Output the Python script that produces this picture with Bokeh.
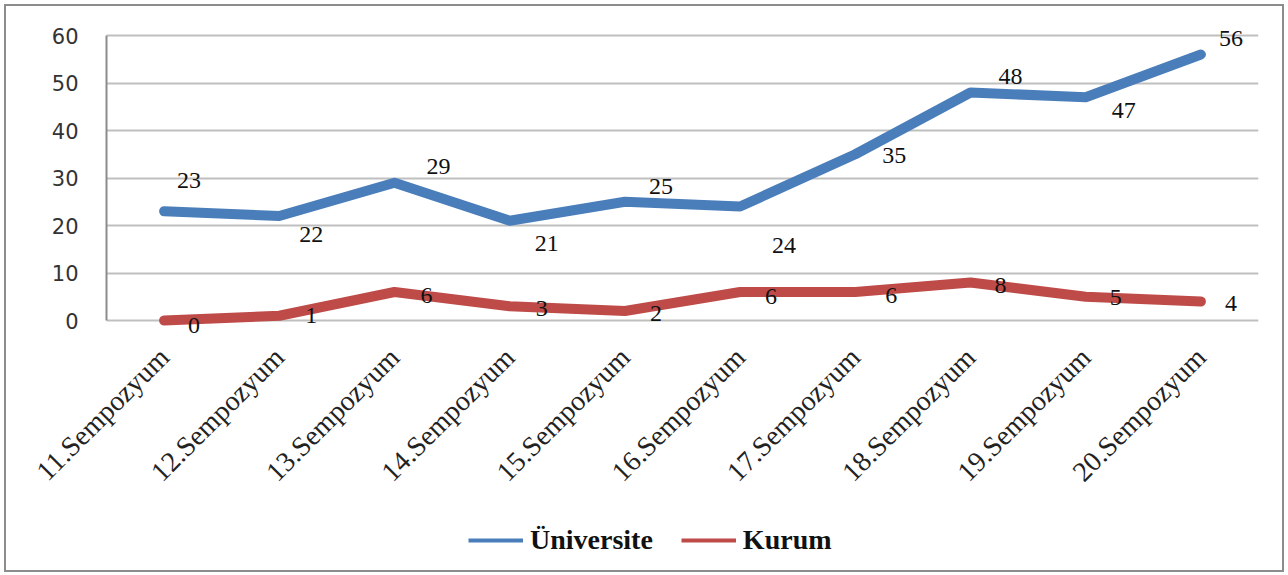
from math import pi
from bokeh.plotting import figure
from bokeh.layouts import column
from bokeh.models import ColumnDataSource, FactorRange, Legend, LegendItem, SingleIntervalTicker, LabelSet, Range1d
from bokeh.embed import file_html
from bokeh.resources import INLINE

categories = ["11.Sempozyum", "12.Sempozyum", "13.Sempozyum", "14.Sempozyum", "15.Sempozyum",
              "16.Sempozyum", "17.Sempozyum", "18.Sempozyum", "19.Sempozyum", "20.Sempozyum"]
universite = [23, 22, 29, 21, 25, 24, 35, 48, 47, 56]
kurum = [0, 1, 6, 3, 2, 6, 6, 8, 5, 4]
series_names = ["Üniversite", "Kurum"]

# label placement (screen px offsets, layout only; dy positive = down)
uni_dx = [25, 32, 44, 37, 36, 44, 39, 40, 38, 30]
uni_dy = [-31, 18, -16, 23, -15, 39, 1, -16, 13, -16]
kur_dx = [30, 32, 32, 32, 31, 31, 36, 30, 30, 30]
kur_dy = [5, 0, 3, 2, 2, 4, 3, 3, 1, 2]

BLUE = "#4a7ebb"
RED = "#be4b48"

PX = 285 / 60.0          # pixels per unit on the value axis
TOP_PAD, BOT_PAD = 12, 22  # extra frame room so labels near the edges are not clipped

p = figure(width=1276, height=500, x_range=FactorRange(*categories, range_padding=0),
           y_range=Range1d(-BOT_PAD / PX, 60 + TOP_PAD / PX), output_backend="svg",
           toolbar_location=None,
           min_border_left=100, min_border_right=24, min_border_top=17,
           min_border_bottom=500 - 17 - (285 + TOP_PAD + BOT_PAD))
p.outline_line_color = None
p.background_fill_color = "white"
p.border_fill_color = "white"

p.yaxis.ticker = SingleIntervalTicker(interval=10)
p.yaxis.bounds = (0, 60)
p.ygrid.grid_line_color = "#bfbfbf"
p.ygrid.grid_line_width = 2
p.xgrid.grid_line_color = None
p.yaxis.axis_line_color = "#8c8c8c"
p.yaxis.axis_line_width = 2
p.xaxis.axis_line_color = None
p.yaxis.major_tick_line_color = None
p.yaxis.minor_tick_line_color = None
p.xaxis.major_tick_line_color = None
p.yaxis.major_label_text_font = "DejaVu Sans"
p.yaxis.major_label_text_font_size = "21px"
p.yaxis.major_label_text_color = "#333333"
p.yaxis.major_label_standoff = 22
p.xaxis.major_label_text_font = "Liberation Serif"
p.xaxis.major_label_text_font_size = "28px"
p.xaxis.major_label_text_color = "#222222"
p.xaxis.major_label_orientation = pi / 4
p.xaxis.major_label_standoff = 4

src = ColumnDataSource(dict(x=categories, u=universite, k=kurum,
                            ul=[str(v) for v in universite], kl=[str(v) for v in kurum],
                            udx=uni_dx, udy=[-d for d in uni_dy],
                            kdx=kur_dx, kdy=[-d for d in kur_dy]))

p.line("x", "u", source=src, line_color=BLUE, line_width=10, line_join="round", line_cap="round")
p.line("x", "k", source=src, line_color=RED, line_width=10, line_join="round", line_cap="round")

for col, lab, dx, dy in (("u", "ul", "udx", "udy"), ("k", "kl", "kdx", "kdy")):
    p.add_layout(LabelSet(x="x", y=col, text=lab, source=src, x_offset=dx, y_offset=dy,
                          text_font="Liberation Serif", text_font_size="24px",
                          text_color="#111111", text_align="center", text_baseline="middle"))

# legend strip
lg = figure(width=1276, height=64, x_range=Range1d(0, 1), y_range=Range1d(0, 1),
            output_backend="svg", toolbar_location=None, x_axis_type=None, y_axis_type=None,
            min_border=0)
lg.outline_line_color = None
lg.grid.visible = False
lu = lg.line([0.5], [float("nan")], line_color=BLUE, line_width=4)
lk = lg.line([0.5], [float("nan")], line_color=RED, line_width=4)
legend = Legend(items=[LegendItem(label=series_names[0], renderers=[lu]),
                       LegendItem(label=series_names[1], renderers=[lk])],
                orientation="horizontal", location=(362, 14),
                label_text_font="Liberation Serif", label_text_font_style="bold",
                label_text_font_size="28px", label_text_color="#111111",
                glyph_width=55, label_standoff=7, spacing=28, padding=0, margin=0,
                border_line_color=None, background_fill_alpha=0)
lg.add_layout(legend)

layout = column(p, lg, spacing=0)
layout.styles = {"border": "2px solid #8c8c8c", "margin": "4px 0 0 4px", "background": "white"}

open("out.html", "w").write(file_html(layout, INLINE))
